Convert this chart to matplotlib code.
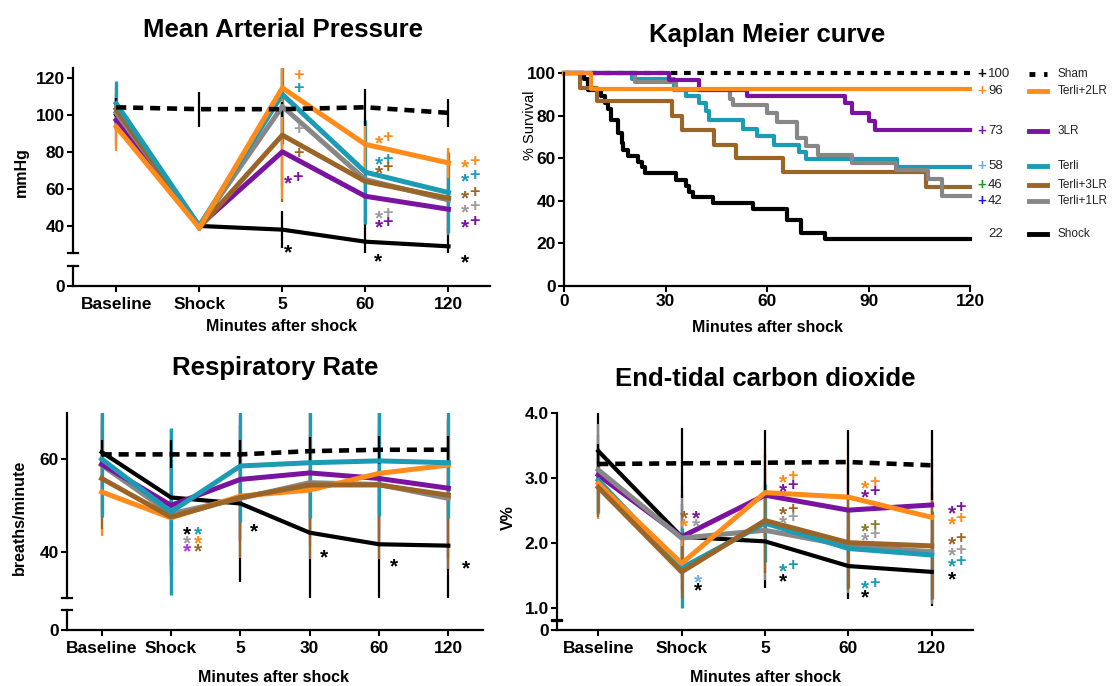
"""Four-panel figure: MAP, Kaplan-Meier survival, respiratory rate, ETCO2."""

import matplotlib

matplotlib.use("Agg")
import matplotlib.pyplot as plt

plt.rcParams["font.family"] = ["Liberation Sans", "DejaVu Sans"]
plt.rcParams["font.weight"] = "bold"

W, H = 1113, 686

ORANGE = "#ff8c1a"
CYAN = "#1b9bb4"
PURPLE = "#7a14a0"
BROWN = "#9a6526"
GRAY = "#878787"
BLACK = "#000000"
LIGHT_GRAY = "#9c9c9c"
LIGHT_BLUE = "#6aaef0"
VIOLET = "#b02ee8"
OLIVE = "#857a2a"

# ---------------- Mean arterial pressure (mmHg) ----------------
MAP_TIMES = ["Baseline", "Shock", "5", "60", "120"]
map_sham = [104, 103, 103, 104, 101]
map_sham_err = [5, 9.5, 4, 10, 7.5]
map_shock = [100, 40, 38, 31.5, 29]
map_shock_err = [8, 2, 10, 14, 10]
map_3lr = [97, 40, 80, 56, 49]
map_3lr_err = [14, 2, 19, 14, 12]
map_terli1 = [101, 40, 104.5, 65, 54]
map_terli1_err = [8, 2, 20, 20, 15]
map_terli3 = [103, 39, 89, 64, 55]
map_terli3_err = [12, 2, 36, 18, 20]
map_terli = [106, 40, 111, 69, 58]
map_terli_err = [12, 2, 27, 28, 22]
map_terli2 = [93.5, 39, 114.5, 84, 74]
map_terli2_err = [13, 2, 60, 14, 8]
map_marks = [
    (2.19, 122, "+", ORANGE), (2.19, 115, "+", CYAN), (2.19, 93, "+", LIGHT_GRAY),
    (2.19, 80, "+", BROWN), (2.07, 67, "*+", PURPLE), (2.07, 29.7, "*", BLACK),
    (3.16, 88.6, "*+", ORANGE), (3.16, 76.8, "*+", CYAN), (3.16, 72.4, "*+", BROWN),
    (3.16, 47.7, "*+", LIGHT_GRAY), (3.16, 42.9, "*+", PURPLE), (3.15, 24.9, "*", BLACK),
    (4.2, 75.7, "*+", ORANGE), (4.2, 68, "*+", CYAN), (4.2, 58.6, "*+", BROWN),
    (4.2, 51.4, "*+", LIGHT_GRAY), (4.2, 43.2, "*+", PURPLE), (4.2, 24.3, "*", BLACK),
]

# ---------------- Kaplan-Meier survival (%) ----------------
km_sham_t = [0, 120]
km_sham_s = [100, 100]
km_shock_t = [0, 6, 7, 11, 12, 13, 14, 16, 17, 17.5, 19, 22, 23, 24, 33, 36, 37, 38, 44, 56, 66, 70, 77, 120]
km_shock_s = [100, 97, 92, 89, 86, 83, 78, 72, 67, 64, 61, 58, 56, 53, 50, 47, 44, 42, 39, 36, 31, 25, 22, 22]
km_terli_t = [0, 20, 32.5, 36, 40, 42, 43, 53, 57, 62, 69.5, 71.5, 98.3, 120]
km_terli_s = [100, 97, 92, 89, 86, 82, 78, 73.8, 70.5, 66.3, 62.9, 59.6, 55.8, 55.8]
km_terli3_t = [0, 4.7, 9.7, 32, 34.8, 44.2, 50.9, 64.8, 107, 120]
km_terli3_s = [100, 93, 86.7, 80, 73.4, 66.3, 60, 53.4, 46.7, 46.7]
km_terli1_t = [0, 21, 33, 49, 50, 60, 63, 69, 71.5, 75, 85, 98, 107.7, 111.6, 120]
km_terli1_s = [100, 96, 92, 88, 85, 81, 77, 69.5, 65.5, 61.6, 57.7, 54.5, 50.3, 42.3, 42.3]
km_3lr_t = [0, 31, 40, 54, 83, 85, 90, 92, 120]
km_3lr_s = [100, 96.6, 91.8, 89, 85.9, 81.2, 77.3, 73.4, 73.4]
km_terli2_t = [0, 8, 120]
km_terli2_s = [100, 92.6, 92.6]
KM_GROUPS = ["Sham", "Terli+2LR", "3LR", "Terli", "Terli+3LR", "Terli+1LR", "Shock"]
KM_FINAL = ["100", "96", "73", "58", "46", "42", "22"]
KM_CROSS = [BLACK, ORANGE, PURPLE, LIGHT_BLUE, "#1a9a1a", "#1a1acc", None]
KM_ROW_Y = [99.5, 91.5, 72.8, 56.3, 47.4, 40, 24.4]

# ---------------- Respiratory rate (breaths/minute) ----------------
RR_TIMES = ["Baseline", "Shock", "5", "30", "60", "120"]
rr_sham = [61, 61, 61, 61.7, 62, 62]
rr_sham_err = [3, 3, 3, 3, 3, 3]
rr_shock = [61.5, 51.7, 50.4, 44.1, 41.6, 41.3]
rr_shock_err = [8, 14.5, 17, 14, 12.5, 14]
rr_terli1 = [58.7, 48.2, 51.5, 54.9, 54.5, 51.5]
rr_terli1_err = [9.6, 7.4, 9, 10, 12, 13.5]
rr_3lr = [58.9, 50, 55.6, 57, 55.8, 53.7]
rr_3lr_err = [11.5, 13.7, 13.6, 14, 14, 15]
rr_terli2 = [52.9, 47.3, 52, 53.3, 56.9, 58.7]
rr_terli2_err = [9.5, 12.8, 10, 12, 12, 10]
rr_terli3 = [55.8, 47.5, 51.7, 54.4, 54.4, 52.2]
rr_terli3_err = [11, 12, 13, 16, 16, 16]
rr_terli = [60, 48.6, 58.5, 59.2, 59.6, 59.2]
rr_terli_err = [12.5, 18, 12, 12, 12, 12]
rr_marks = [
    (1.235, 45.2, "*", BLACK), (1.39, 45.2, "*", CYAN),
    (1.235, 43.4, "*", LIGHT_GRAY), (1.39, 43.4, "*", ORANGE),
    (1.235, 41.7, "*", VIOLET), (1.39, 41.7, "*", BROWN),
    (2.19, 45.9, "*", BLACK), (3.2, 40.3, "*", BLACK),
    (4.22, 38.3, "*", BLACK), (5.25, 38, "*", BLACK),
]

# ---------------- End-tidal CO2 (V%) ----------------
ET_TIMES = ["Baseline", "Shock", "5", "60", "120"]
et_sham = [3.22, 3.23, 3.24, 3.25, 3.2]
et_sham_err = [0.3, 0.54, 0.5, 0.5, 0.54]
et_shock = [3.42, 2.1, 2.03, 1.65, 1.56]
et_shock_err = [0.6, 0.5, 0.72, 0.51, 0.52]
et_3lr = [3.05, 2.1, 2.74, 2.51, 2.59]
et_3lr_err = [0.62, 0.65, 0.64, 0.7, 0.72]
et_terli1 = [3.13, 2.08, 2.2, 1.96, 1.87]
et_terli1_err = [0.7, 0.8, 0.76, 0.73, 0.81]
et_terli = [2.97, 1.62, 2.31, 1.92, 1.82]
et_terli_err = [0.5, 0.62, 0.6, 0.6, 0.67]
et_terli2 = [2.92, 1.69, 2.78, 2.71, 2.4]
et_terli2_err = [0.54, 0.45, 0.68, 0.83, 0.63]
et_terli3 = [2.86, 1.56, 2.35, 2.01, 1.96]
et_terli3_err = [0.45, 0.4, 0.8, 0.73, 0.83]
et_marks = [
    (1.03, 2.49, "*", BROWN), (1.17, 2.49, "*", PURPLE),
    (1.03, 2.37, "*", ORANGE), (1.17, 2.37, "*", LIGHT_GRAY),
    (1.19, 1.51, "*", LIGHT_BLUE), (1.19, 1.38, "*", BLACK),
    (2.22, 3.05, "*+", ORANGE), (2.22, 2.91, "*+", PURPLE), (2.22, 2.55, "*+", BROWN),
    (2.22, 2.42, "*+", LIGHT_GRAY), (2.22, 1.68, "*+", CYAN), (2.22, 1.53, "*", BLACK),
    (3.2, 2.96, "*+", ORANGE), (3.2, 2.82, "*+", PURPLE), (3.2, 2.3, "*+", OLIVE),
    (3.2, 2.16, "*+", LIGHT_GRAY), (3.2, 1.41, "*+", CYAN), (3.2, 1.27, "*", BLACK),
    (4.24, 2.57, "*+", PURPLE), (4.24, 2.4, "*+", ORANGE), (4.24, 2.09, "*+", BROWN),
    (4.24, 1.92, "*+", LIGHT_GRAY), (4.24, 1.75, "*+", CYAN), (4.24, 1.55, "*", BLACK),
]


def px_axes(fig, left, top, right, bottom):
    """Add axes placed by pixel edges of the 1113x686 canvas."""
    return fig.add_axes([left / W, 1 - bottom / H, (right - left) / W, (bottom - top) / H])


def style(ax):
    for side in ("top", "right"):
        ax.spines[side].set_visible(False)
    for side in ("left", "bottom"):
        ax.spines[side].set_linewidth(1.6)
    ax.tick_params(direction="out", length=4, width=1.5, labelsize=12.5, pad=2)
    ax.patch.set_alpha(0)


def broken_panel(fig, left, right, top, split_top, split_low, bottom, xlim, ylim, ylim_low, yticks, ylabels, cats):
    upper = px_axes(fig, left, top, right, split_top)
    lower = px_axes(fig, left, split_low, right, bottom)
    for ax in (upper, lower):
        style(ax)
        ax.set_xlim(*xlim)
    upper.spines["bottom"].set_visible(False)
    upper.tick_params(axis="x", bottom=False, labelbottom=False)
    upper.set_ylim(*ylim)
    upper.set_yticks(yticks, ylabels)
    lower.set_ylim(*ylim_low)
    lower.set_yticks([0], ["0"])
    lower.set_xticks(range(len(cats)), cats)
    lower.tick_params(axis="x", pad=4)
    cap = 5 / (right - left)
    upper.plot([-cap, cap], [0, 0], transform=upper.transAxes, color=BLACK, lw=1.6, clip_on=False)
    lower.plot([-cap, cap], [1, 1], transform=lower.transAxes, color=BLACK, lw=1.6, clip_on=False)
    return upper, lower


def draw_series(ax, values, errors, color, dashed=False, lw=3.6, elw=1.6):
    x = list(range(len(values)))
    ax.errorbar(x, values, yerr=errors, fmt="none", ecolor=color, elinewidth=elw, capsize=0, zorder=2)
    if dashed:
        ax.plot(x, values, color=color, lw=3.3, dashes=(2.2, 1.5), zorder=5)
    else:
        ax.plot(x, values, color=color, lw=lw, zorder=3)


def draw_marks(ax, marks):
    # asterisks and crosses are separate texts so both sit on the same centre line
    for x, y, text, color in marks:
        for i, ch in enumerate(text):
            star = ch == "*"
            ax.annotate(ch, (x, y), xytext=(i * 6.5, -5.5 if star else -1.1), textcoords="offset points",
                        ha="center", va="center", color=color, fontsize=15 if star else 13,
                        annotation_clip=False, zorder=6)


fig = plt.figure(figsize=(W / 100, H / 100), dpi=100)


def ftext(x, y, s, **kw):
    fig.text(x / W, 1 - y / H, s, ha="center", va="center", **kw)


# --- MAP ---
up, low = broken_panel(fig, 73, 490, 68, 253, 266, 286, (-0.52, 4.5), (25.4, 125.2), (0, 10.8),
                       [40, 60, 80, 100, 120], ["40", "60", "80", "100", "120"], MAP_TIMES)
draw_series(up, map_shock, map_shock_err, BLACK, lw=3)
draw_series(up, map_3lr, map_3lr_err, PURPLE)
draw_series(up, map_terli1, map_terli1_err, GRAY)
draw_series(up, map_terli3, map_terli3_err, BROWN)
draw_series(up, map_terli, map_terli_err, CYAN, elw=2.4)
draw_series(up, map_terli2, map_terli2_err, ORANGE)
draw_series(up, map_sham, map_sham_err, BLACK, dashed=True)
draw_marks(up, map_marks)
ftext(283, 30, "Mean Arterial Pressure", fontsize=18.5)
ftext(282, 326, "Minutes after shock", fontsize=11.5)
ftext(21, 172, "mmHg", fontsize=11.5, rotation=90)

# --- Kaplan-Meier ---
km = px_axes(fig, 564, 73, 970, 286)
style(km)
km.set_xlim(0, 120)
km.set_ylim(0, 100)
km.set_xticks([0, 30, 60, 90, 120])
km.set_yticks([0, 20, 40, 60, 80, 100])
km.step(km_sham_t, km_sham_s, where="post", color=BLACK, lw=3, dashes=(1.6, 1.6), clip_on=False)
km.step(km_shock_t, km_shock_s, where="post", color=BLACK, lw=3, clip_on=False)
km.step(km_terli_t, km_terli_s, where="post", color=CYAN, lw=3, clip_on=False)
km.step(km_terli3_t, km_terli3_s, where="post", color=BROWN, lw=3, clip_on=False)
km.step(km_terli1_t, km_terli1_s, where="post", color=GRAY, lw=3, clip_on=False)
km.step(km_3lr_t, km_3lr_s, where="post", color=PURPLE, lw=3, clip_on=False)
km.step(km_terli2_t, km_terli2_s, where="post", color=ORANGE, lw=3, clip_on=False)
KM_COLORS = [BLACK, ORANGE, PURPLE, CYAN, BROWN, GRAY, BLACK]
for name, final, cross, row_y, color in zip(KM_GROUPS, KM_FINAL, KM_CROSS, KM_ROW_Y, KM_COLORS):
    if cross:
        km.text(123.6, row_y, "+", color=cross, fontsize=11, ha="center", va="center")
    km.text(125.3, row_y, final, color="#222222", fontsize=9.5, fontweight="normal", ha="left", va="center")
    if name == "Sham":
        km.plot([137.5, 142.9], [row_y, row_y], color=color, lw=3.5, dashes=(1.2, 1.8), clip_on=False)
    else:
        km.plot([137.5, 142.9], [row_y, row_y], color=color, lw=3.5, clip_on=False)
    km.text(145.8, row_y, name, color="#222222", fontsize=8.5, fontweight="normal", ha="left", va="center")
ftext(767, 35, "Kaplan Meier curve", fontsize=18.5)
ftext(768, 328, "Minutes after shock", fontsize=11.5)
ftext(530, 125, "% Survival", fontsize=10.5, fontweight="normal", rotation=90)

# --- Respiratory rate ---
up, low = broken_panel(fig, 67, 483, 412.7, 598, 610, 630, (-0.5, 5.5), (30, 70), (0, 4.3),
                       [40, 60], ["40", "60"], RR_TIMES)
draw_series(up, rr_shock, rr_shock_err, BLACK, lw=3)
draw_series(up, rr_terli1, rr_terli1_err, GRAY)
draw_series(up, rr_3lr, rr_3lr_err, PURPLE)
draw_series(up, rr_terli2, rr_terli2_err, ORANGE)
draw_series(up, rr_terli3, rr_terli3_err, BROWN)
draw_series(up, rr_terli, rr_terli_err, CYAN, elw=2.4)
draw_series(up, rr_sham, rr_sham_err, BLACK, dashed=True)
draw_marks(up, rr_marks)
ftext(275, 368, "Respiratory Rate", fontsize=18.5)
ftext(274, 677, "Minutes after shock", fontsize=11.5)
ftext(19, 517, "breaths/minute", fontsize=11.5, rotation=90)

# --- End-tidal CO2 ---
up, low = broken_panel(fig, 557, 973, 413.3, 620, 621, 630, (-0.495, 4.495), (0.82, 4.0), (0, 0.14),
                       [1, 2, 3, 4], ["1.0", "2.0", "3.0", "4.0"], ET_TIMES)
draw_series(up, et_shock, et_shock_err, BLACK, lw=3)
draw_series(up, et_3lr, et_3lr_err, PURPLE)
draw_series(up, et_terli1, et_terli1_err, GRAY)
draw_series(up, et_terli, et_terli_err, CYAN, elw=2.4)
draw_series(up, et_terli2, et_terli2_err, ORANGE)
draw_series(up, et_terli3, et_terli3_err, BROWN)
draw_series(up, et_sham, et_sham_err, BLACK, dashed=True)
draw_marks(up, et_marks)
ftext(765, 379, "End-tidal carbon dioxide", fontsize=18.5)
ftext(765, 677, "Minutes after shock", fontsize=11.5)
ftext(508, 518, "V%", fontsize=11.5, rotation=90)

fig.savefig("out.png", dpi=100)
